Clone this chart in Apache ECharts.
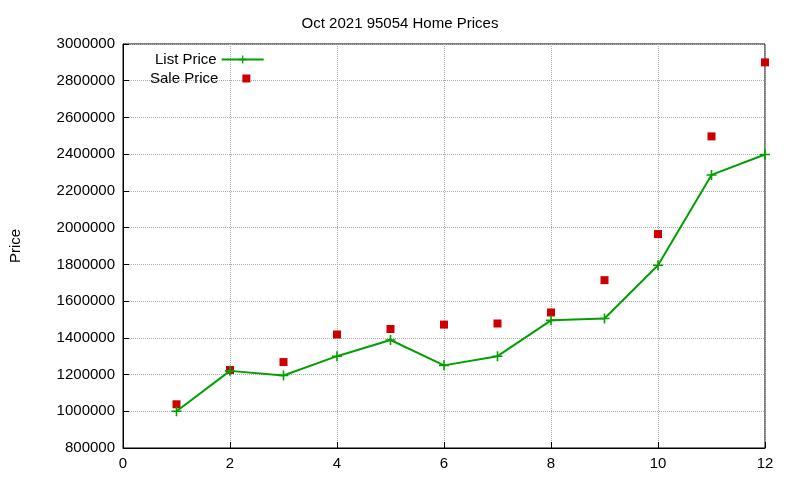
<!DOCTYPE html>
<html><head><meta charset="utf-8">
<script src="https://cdn.jsdelivr.net/npm/echarts@6/dist/echarts.min.js"></script>
<style>html,body{margin:0;background:#fff}#c{width:800px;height:480px}</style>
</head><body><div id="c"></div>
<script>
const months = [1,2,3,4,5,6,7,8,9,10,11,12];
const listPrice = [1000000,1220000,1195000,1300000,1388000,1250000,1300000,1495000,1505000,1795000,2287000,2398000];
const salePrice = [1038000,1225000,1268000,1418000,1448000,1472000,1478000,1538000,1714000,1965000,2497000,2900000];
const yTicks = {min:800000, max:3000000, interval:200000};
const xTicks = {min:0, max:12, interval:2};
const font = 'Liberation Sans, DejaVu Sans, sans-serif';
const plus = 'path://M0.42,0H0.58V1H0.42ZM0,0.42H1V0.58H0Z';
const chart = echarts.init(document.getElementById('c'));
chart.setOption({
  animation:false,
  title:{text:'Oct 2021 95054 Home Prices',left:'center',top:11,textStyle:{fontFamily:font,fontSize:15,fontWeight:'normal',color:'#000'}},
  grid:{left:120,right:35,top:44,bottom:32,show:true,borderColor:'#000',borderWidth:1},
  legend:[
    {orient:'vertical',left:150,top:47,align:'right',itemWidth:42,itemHeight:10,
      textStyle:{fontFamily:font,fontSize:15,color:'#000'},data:['List Price']},
    {orient:'vertical',left:145,top:66,align:'right',itemWidth:8,itemHeight:8,
      textStyle:{fontFamily:font,fontSize:15,color:'#000',padding:[0,19,0,0]},
      data:[{name:'Sale Price',icon:'rect'}]}
  ],
  xAxis:{type:'value',min:xTicks.min,max:xTicks.max,interval:xTicks.interval,
    axisLine:{lineStyle:{color:'#000'}},axisTick:{inside:true,length:6,lineStyle:{color:'#000'}},
    axisLabel:{fontFamily:font,fontSize:15,color:'#000',margin:8},
    splitLine:{lineStyle:{type:'dotted',color:'#aaa'}}},
  yAxis:{type:'value',min:yTicks.min,max:yTicks.max,interval:yTicks.interval,
    name:'Price',nameLocation:'middle',nameGap:100,nameRotate:90,nameTextStyle:{fontFamily:font,fontSize:15,color:'#000'},
    axisLine:{show:true,lineStyle:{color:'#000'}},axisTick:{inside:true,length:6,lineStyle:{color:'#000'}},
    axisLabel:{fontFamily:font,fontSize:15,color:'#000',margin:8,formatter:v=>String(v)},
    splitLine:{lineStyle:{type:'dotted',color:'#aaa'}}},
  series:[
    {name:'List Price',type:'line',data:months.map((m,i)=>[m,listPrice[i]]),symbol:plus,symbolSize:10,
      lineStyle:{color:'#00a000',width:2},itemStyle:{color:'#00a000'}},
    {name:'Sale Price',type:'scatter',data:months.map((m,i)=>[m,salePrice[i]]),symbol:'rect',symbolSize:8,
      itemStyle:{color:'#cc0000',opacity:1}}
  ]
});
</script></body></html>
